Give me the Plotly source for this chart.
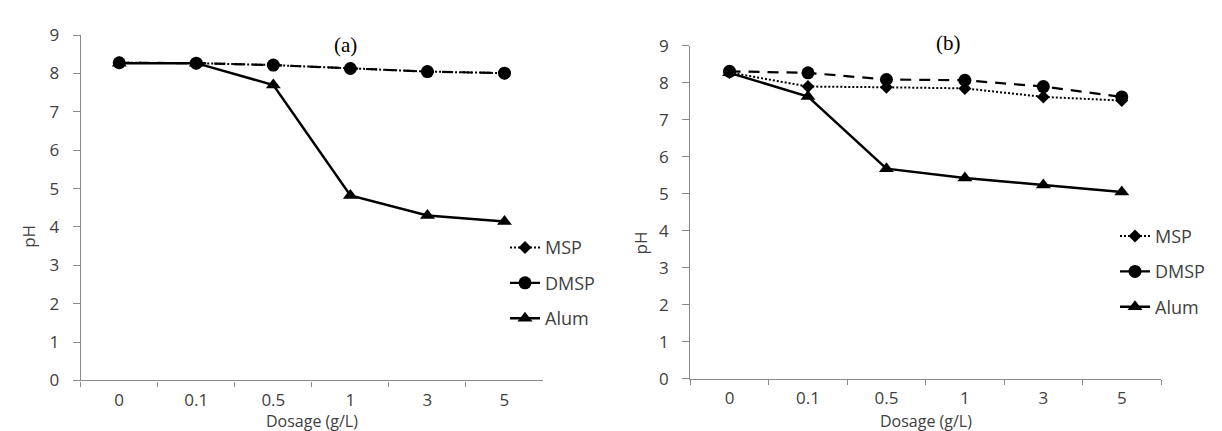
import plotly.graph_objects as go

dosage = ["0", "0.1", "0.5", "1", "3", "5"]

# Panel (a)
msp_a = [8.28, 8.27, 8.22, 8.13, 8.05, 8.01]
dmsp_a = [8.28, 8.27, 8.22, 8.13, 8.05, 8.01]
alum_a = [8.27, 8.27, 7.70, 4.82, 4.30, 4.14]

# Panel (b)
msp_b = [8.28, 7.90, 7.88, 7.85, 7.62, 7.52]
dmsp_b = [8.31, 8.27, 8.09, 8.07, 7.90, 7.62]
alum_b = [8.27, 7.63, 5.68, 5.43, 5.24, 5.05]

yticks = [0, 1, 2, 3, 4, 5, 6, 7, 8, 9]

fig = go.Figure()

AX = "#8a8a8a"
TXT = "#404040"
FONT = "Open Sans"
W, H = 1222, 431


def add_panel(xa, ya, leg, msp, dmsp, alum):
    fig.add_trace(go.Scatter(x=dosage, y=msp, name="MSP", mode="lines+markers",
                             line=dict(color="black", width=2, dash="2px,2px"),
                             marker=dict(symbol="diamond", size=10, color="black"),
                             xaxis=xa, yaxis=ya, legend=leg, legendgroup=leg + "m"))
    fig.add_trace(go.Scatter(x=dosage, y=dmsp, name="DMSP", mode="lines+markers",
                             line=dict(color="black", width=2.2, dash="11px,8px"),
                             marker=dict(symbol="circle", size=13, color="black"),
                             xaxis=xa, yaxis=ya, legend=leg, legendgroup=leg + "d"))
    fig.add_trace(go.Scatter(x=dosage, y=alum, name="Alum", mode="lines+markers",
                             line=dict(color="black", width=2.5),
                             marker=dict(symbol="triangle-up", size=13, color="black"),
                             xaxis=xa, yaxis=ya, legend=leg, legendgroup=leg + "a"))


add_panel("x", "y", "legend", msp_a, dmsp_a, alum_a)
add_panel("x2", "y2", "legend2", msp_b, dmsp_b, alum_b)

xaxis_common = dict(type="category", tickson="boundaries", ticks="outside", ticklen=5,
                    tickcolor=AX, linecolor=AX, linewidth=1.3, showline=True, showgrid=False,
                    tickfont=dict(family=FONT, size=17, color=TXT), zeroline=False,
                    range=[-0.5, 5.5], ticklabelstandoff=4)
yaxis_common = dict(range=[0, 9], tickvals=yticks, ticks="outside", ticklen=7, tickcolor=AX,
                    linecolor=AX, linewidth=1.3, showline=True, showgrid=False, zeroline=False,
                    tickfont=dict(family=FONT, size=17, color=TXT), ticklabelstandoff=10)


def px_x(a, b):
    return [a / W, b / W]


def px_y(top, bottom):
    return [1 - bottom / H, 1 - top / H]


legend_font = dict(family=FONT, size=18, color=TXT)

fig.update_layout(
    width=W, height=H,
    margin=dict(l=0, r=0, t=0, b=0),
    plot_bgcolor="white", paper_bgcolor="white",
    xaxis=dict(domain=px_x(72.7, 535), anchor="y", **xaxis_common),
    yaxis=dict(domain=px_y(16, 380.7), anchor="x", **yaxis_common),
    xaxis2=dict(domain=px_x(682.3, 1153), anchor="y2", **xaxis_common),
    yaxis2=dict(domain=px_y(27.3, 379), anchor="x2", **yaxis_common),
    legend=dict(x=497 / W, y=1 - 221 / H, xanchor="left", yanchor="top",
                font=legend_font, tracegroupgap=9, bgcolor="rgba(0,0,0,0)"),
    legend2=dict(x=1107 / W, y=1 - 209 / H, xanchor="left", yanchor="top",
                 font=legend_font, tracegroupgap=9, bgcolor="rgba(0,0,0,0)"),
    annotations=[
        dict(text="(a)", x=337 / W, xref="paper", y=1 - 26 / H, yref="paper", showarrow=False,
             font=dict(family="Liberation Serif", size=21, color="black"),
             xanchor="center", yanchor="middle"),
        dict(text="(b)", x=940 / W, xref="paper", y=1 - 24 / H, yref="paper", showarrow=False,
             font=dict(family="Liberation Serif", size=21, color="black"),
             xanchor="center", yanchor="middle"),
        dict(text="Dosage (g/L)", x=304 / W, xref="paper", y=1 - 424 / H, yref="paper",
             showarrow=False, font=dict(family=FONT, size=16, color=TXT),
             xanchor="center", yanchor="middle"),
        dict(text="Dosage (g/L)", x=918 / W, xref="paper", y=1 - 424 / H, yref="paper",
             showarrow=False, font=dict(family=FONT, size=16, color=TXT),
             xanchor="center", yanchor="middle"),
        dict(text="pH", x=21 / W, xref="paper", y=1 - 229 / H, yref="paper", textangle=-90,
             showarrow=False, font=dict(family=FONT, size=17, color=TXT),
             xanchor="center", yanchor="middle"),
        dict(text="pH", x=632 / W, xref="paper", y=1 - 236 / H, yref="paper", textangle=-90,
             showarrow=False, font=dict(family=FONT, size=17, color=TXT),
             xanchor="center", yanchor="middle"),
    ],
)

fig.write_html("out.html")
